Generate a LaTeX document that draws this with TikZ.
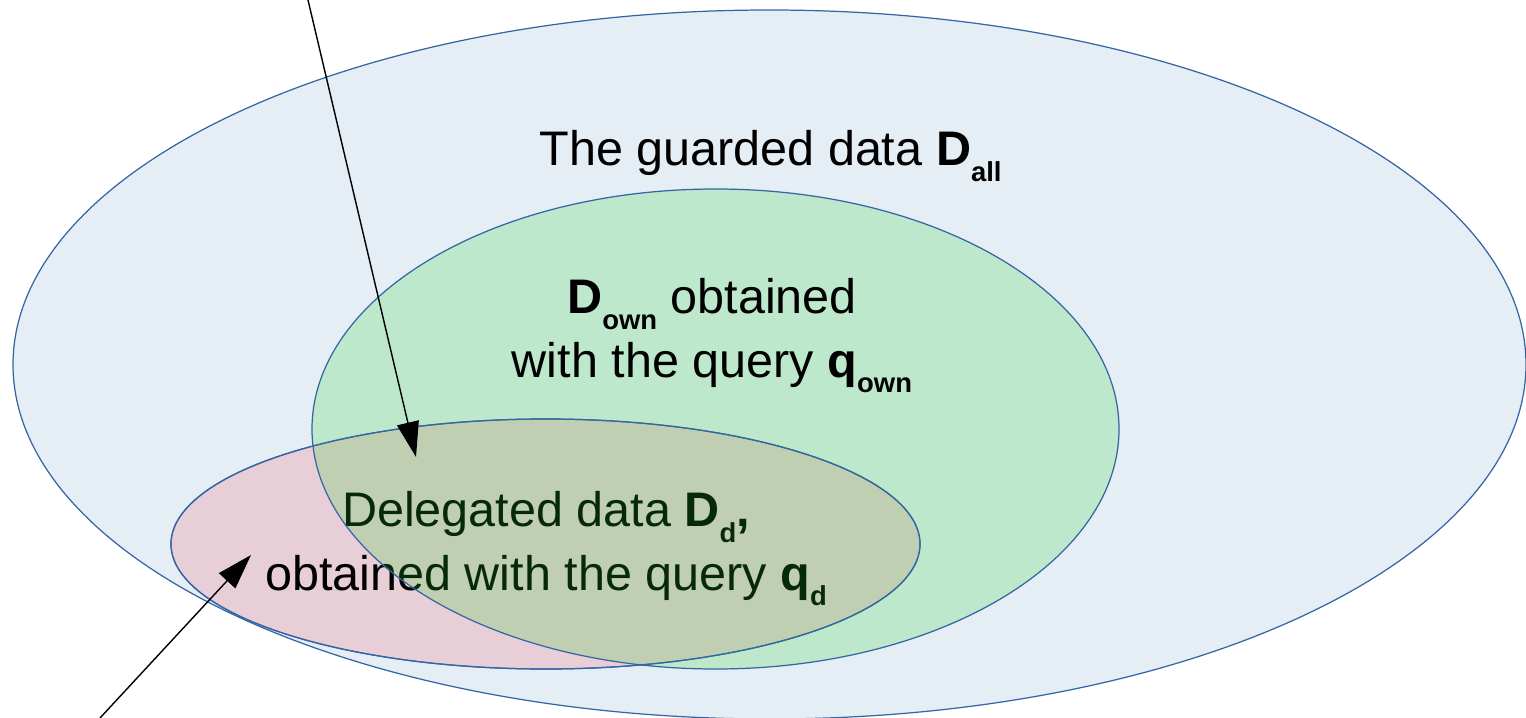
\documentclass[tikz,border=0pt]{standalone}
\usepackage{fontspec}
\setmainfont{Liberation Sans}
\usetikzlibrary{arrows.meta}

\definecolor{setline}{RGB}{52,101,164}
\definecolor{allfill}{RGB}{229,237,245}
\definecolor{ownfill}{RGB}{33,212,35}
\definecolor{delfill}{RGB}{232,206,214}

% lowered bold subscript
\newcommand{\lowsub}[1]{\raisebox{-4.5pt}{\fontsize{7.8}{8}\selectfont\bfseries #1}}

\tikzset{
  setedge/.style={draw=setline, line width=0.35pt},
  label/.style={align=center, anchor=base, inner sep=0pt,
    font=\fontsize{13.8}{18.1}\selectfont},
  pointer/.style={black, line width=0.4pt, -{Triangle[length=10pt,width=6.3pt]}}
}

\begin{document}
\begin{tikzpicture}[x=0.01cm, y=-0.01cm]
\useasboundingbox (0,0) rectangle (1526,718);

% the whole guarded set
\draw [setedge, fill=allfill] (769.5,364.5) ellipse [x radius=756.5, y radius=354.5];
\node [label] (all) at (770.5,166) {The guarded data \textbf{D}\lowsub{all}};

% delegated part (base is the last line)
\draw [setedge, fill=delfill] (545.5,544) ellipse [x radius=374.5, y radius=125];
\node [label] (del) at (546,590) {Delegated data \textbf{D}\lowsub{d}\textbf{,}\\
  obtained with the query \textbf{q}\lowsub{d}};

% own part, see-through over the delegated one
\draw [setedge, fill=ownfill, fill opacity=0.2] (715.5,429) ellipse [x radius=403.5, y radius=240];
\draw [setedge] (545.5,544) ellipse [x radius=374.5, y radius=125];
\node [label] (own) at (712,377) {\textbf{D}\lowsub{own} obtained\\
  with the query \textbf{q}\lowsub{own}};

% pointers
\coordinate (topend) at (308,0);
\coordinate (toptip) at (416,457);
\coordinate (botend) at (100,718);
\coordinate (bottip) at (251,555);
\draw [pointer] (topend) -- (toptip);
\draw [pointer] (botend) -- (bottip);
\end{tikzpicture}
\end{document}
